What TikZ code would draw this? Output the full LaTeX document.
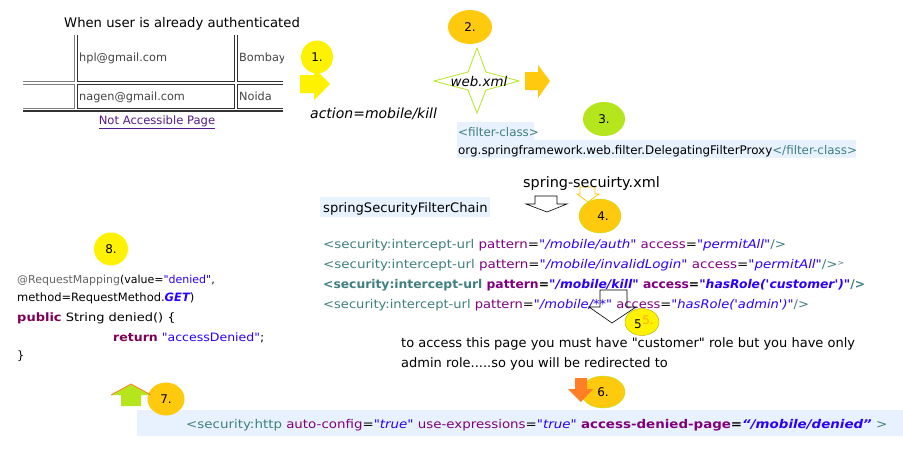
\documentclass[tikz,border=0pt]{standalone}
\usepackage{fontspec}
\usepackage{graphicx}
\setmainfont{DejaVu Sans}[Ligatures=TeXOff]
\usetikzlibrary{shapes.geometric}
\definecolor{yel}{HTML}{FFF200}
\definecolor{gold}{HTML}{FFC90E}
\definecolor{lime}{HTML}{B5E61D}
\definecolor{orng}{HTML}{FF7F27}
\definecolor{tagc}{HTML}{3F7F7F}
\definecolor{attc}{HTML}{7F007F}
\definecolor{valc}{HTML}{2A00FF}
\definecolor{kwc}{HTML}{7F0055}
\definecolor{hlc}{HTML}{E8F2FE}
\definecolor{cellg}{HTML}{808080}
\definecolor{celld}{HTML}{333333}
\definecolor{tabtxt}{HTML}{444444}
\definecolor{linkc}{HTML}{551A8B}
\definecolor{annc}{HTML}{646464}
\newcommand\cTag[1]{\textcolor{tagc}{#1}}
\newcommand\cAtt[1]{\textcolor{attc}{#1}}
\newcommand\cVal[1]{\textcolor{valc}{\itshape #1}}
\newcommand\cKw[1]{\textcolor{kwc}{\bfseries #1}}
\newcommand\sx[2]{\scalebox{#1}[1]{#2}}
\begin{document}
\begin{tikzpicture}[x=1pt,y=-1pt,
  txt/.style={inner sep=0pt, anchor=base west, font=\fontsize{13}{15}\selectfont},
  code/.style={inner sep=0pt, anchor=base west, font=\fontsize{12}{14}\selectfont},
  jcode/.style={inner sep=0pt, anchor=base west, font=\fontsize{11.5}{14}\selectfont},
  tab/.style={inner sep=0pt, anchor=base west, text=tabtxt, font=\fontsize{11.3}{13}\selectfont},
  badge/.style={ellipse, inner sep=0pt, font=\fontsize{12}{13}\selectfont},
  hollow/.style={draw=black, line width=0.6pt}
]
\useasboundingbox (0,0) rectangle (903,461);
\fill[white] (0,0) rectangle (903,461);

% title
\node[txt, font=\fontsize{13.2}{15}\selectfont] (title) at (64,27) {When user is already authenticated};

% table
\draw[cellg, line width=1pt] (23,81) -- (74,81) -- (74,35);
\draw[celld, line width=1pt] (77,35) -- (77,81) -- (234,81) -- (234,35);
\draw[celld, line width=1pt] (283,81) -- (237,81) -- (237,35);
\draw[cellg, line width=1pt] (23,84) -- (74,84) -- (74,108) -- (23,108);
\draw[celld, line width=1pt] (77,84) rectangle (234,108);
\draw[celld, line width=1pt] (283,84) -- (237,84) -- (237,108) -- (283,108);
\draw[celld, line width=2.2pt] (23,111) -- (283,111);
\node[tab] (hpl) at (79,61) {hpl@gmail.com};
\begin{scope}
\clip (236,40) rectangle (283,78);
\node[tab] (bom) at (239,61) {Bombay};
\end{scope}
\node[tab] (nag) at (79,100) {nagen@gmail.com};
\node[tab] (noi) at (239,100) {Noida};
\node[inner sep=0pt, text=linkc, font=\fontsize{11.6}{13}\selectfont] (link) at (157,122) {\underline{Not Accessible Page}};

% step 1
\node[badge, fill=yel, minimum width=32, minimum height=33] (c1) at (317,57) {1.};
\fill[yel] (300,75) -- (314,75) -- (314,68) -- (330,84) -- (314,100) -- (314,93) -- (300,93) -- cycle;
\node[txt, font=\fontsize{14}{15}\selectfont\itshape] (act) at (310,118) {action=mobile/kill};

% step 2
\node[badge, fill=gold, minimum width=44, minimum height=34] (c2) at (470,27) {2.};
\draw[lime, fill=white, line width=0.8pt] (477,48) -- (486,72) -- (519,81) -- (486,90) -- (477,113) -- (468,90) -- (434,81) -- (468,72) -- cycle;
\node[inner sep=0pt, font=\fontsize{13.4}{14}\selectfont\itshape] (web) at (479,82) {web.xml};
\fill[gold] (525,72) -- (538,72) -- (538,65) -- (550,81) -- (538,98) -- (538,90) -- (525,90) -- cycle;

% step 3
\node[badge, fill=lime, minimum width=42, minimum height=34] (c3) at (604,119) {3.};
\fill[hlc] (457,122) rectangle (534,140);
\fill[hlc] (457,140) rectangle (856,158);
\node[code, font=\fontsize{11.9}{13}\selectfont] (fc1) at (458,136) {\cTag{<filter-class>}};
\node[code, font=\fontsize{11.9}{13}\selectfont] (fc2) at (458,154) {org.springframework.web.filter.DelegatingFilterProxy\cTag{</filter-class>}};

% step 4
\draw[gold, fill=white, line width=0.8pt] (580,187) -- (595,187) -- (595,194) -- (599,194) -- (588,202) -- (577,194) -- (580,194) -- cycle;
\node[txt, font=\fontsize{14.4}{16}\selectfont] (ssx) at (523,187) {spring-secuirty.xml};
\fill[hlc] (320,197) rectangle (490,217);
\node[txt, font=\fontsize{13.1}{15}\selectfont] (ssfc) at (323,212) {springSecurityFilterChain};
\draw[hollow, fill=white] (535,196) -- (557,196) -- (557,204) -- (567,204) -- (547,212) -- (526,204) -- (535,204) -- cycle;
\node[badge, fill=gold, draw=lime, minimum width=42, minimum height=34] (c4) at (600,216) {\hspace{6pt}4.};

% intercept-url lines
\node[code] (l1) at (323,248) {\sx{1.117}{\cTag{<security:intercept-url} \cAtt{pattern}=\cVal{"/mobile/auth"} \cAtt{access}=\cVal{"permitAll"}\cTag{/>}}};
\node[code] (l2) at (323,268) {\sx{1.12}{\cTag{<security:intercept-url} \cAtt{pattern}=\cVal{"/mobile/invalidLogin"} \cAtt{access}=\cVal{"permitAll"}\cTag{/>\raisebox{3pt}{\scriptsize >}}}};
\node[code, font=\fontsize{12}{14}\selectfont\bfseries] (l3) at (323,288) {\sx{1.027}{\cTag{<security:intercept-url} \cAtt{pattern}=\cVal{"/mobile/kill"} \cAtt{access}=\cVal{"hasRole('customer')"}\cTag{/>}}};
\node[code] (l4) at (323,308) {\sx{1.09}{\cTag{<security:intercept-url} \cAtt{pattern}=\cVal{"/mobile/**"} \cAtt{access}=\cVal{"hasRole('admin')"}\cTag{/>}}};

% step 5
\draw[hollow] (600,290) -- (627,290) -- (627,307) -- (636,307) -- (612,323) -- (589,307) -- (600,307) -- cycle;
\node[badge, fill=yel, draw=yel!70!black, line width=0.4pt, minimum width=34, minimum height=27] (c5) at (642,322) {};
\node[inner sep=0pt, text=orng!60!yel, font=\fontsize{12}{13}\selectfont] (c5b) at (648,320) {5.};
\node[inner sep=0pt, font=\fontsize{12}{13}\selectfont] (c5a) at (638,324) {5};
\node[txt] (p1) at (401,347) {to access this page you must have "customer" role but you have only};
\node[txt] (p2) at (401,367) {admin role.....so you will be redirected to};

% step 8
\node[badge, fill=yel, minimum width=34, minimum height=33] (c8) at (111,249) {8.};
\node[jcode, font=\fontsize{11}{14}\selectfont] (j1) at (17,283) {\textcolor{annc}{@RequestMapping}(value=\textcolor{valc}{"denied"},};
\node[jcode] (j2) at (17,301) {method=RequestMethod.\textcolor{valc}{\bfseries\itshape GET})};
\node[jcode] (j3) at (17,321) {\sx{1.13}{\cKw{public} String denied() \{}};
\node[jcode] (j4) at (113,341) {\sx{1.09}{\cKw{return} \textcolor{valc}{"accessDenied"};}};
\node[jcode] (j5) at (17,359) {\}};

% bottom bar
\fill[hlc] (137,410) rectangle (903,436);
\node[code] (bot) at (186,428) {\sx{1.117}{\cTag{<security:http} \cAtt{auto-config}=\cVal{"true"} \cAtt{use-expressions}=\cVal{"true"} \textcolor{attc}{\bfseries access-denied-page}\textbf{=}\textcolor{valc}{\bfseries\itshape “/mobile/denied”} \cTag{>}}};

% step 7
\node[badge, fill=gold, minimum width=37, minimum height=33] (c7) at (166,399) {7.};
\fill[lime] (121,406) -- (121,395) -- (111,395) -- (131,384) -- (151,395) -- (141,395) -- (141,406) -- cycle;
\draw[orng, line width=0.8pt] (111,395) -- (131,384) -- (151,395);

% step 6
\node[badge, fill=gold, draw=lime, minimum width=44, minimum height=32] (c6) at (603,392) {6.};
\fill[orng] (575,378) -- (587,378) -- (587,389) -- (593,389) -- (581,402) -- (568,389) -- (575,389) -- cycle;
\end{tikzpicture}
\end{document}
